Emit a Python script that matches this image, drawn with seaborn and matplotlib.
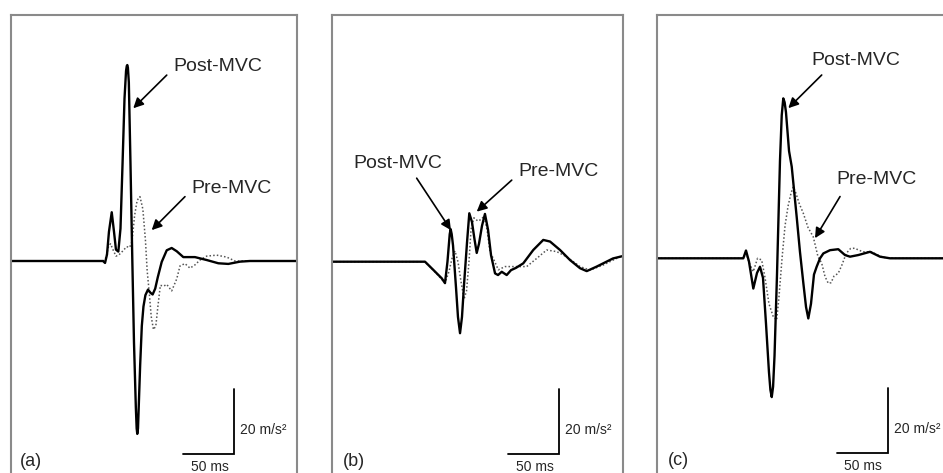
"""
Mechanomyogram twitch traces before and after MVC, three panels (a)-(c).
Solid = Post-MVC, dotted = Pre-MVC. Scale bars: 50 ms / 20 m/s^2.
"""

import matplotlib.pyplot as plt
import seaborn as sns

# ---- data: time (ms) and acceleration (m/s^2) ----
post_a_t = [0, 89.3, 91.3, 93.2, 95.1, 97.8, 100.0, 101.9, 104.2, 106.3,
            108.3, 110.2, 111.7, 112.4, 112.9, 113.5, 114.4, 116.0, 117.8, 119.4,
            121.2, 122.0, 122.6, 123.3, 124.0, 125.4, 127.0, 128.6, 130.5, 133.0,
            135.5, 137.5, 140.0, 142.5, 146.3, 151.2, 156.0, 160.9, 167.3, 178.6,
            190.0, 201.3, 211.0, 222.3, 232.0, 277.7]
post_a_v = [0, 0, -0.6, 2.0, 9.0, 15.0, 9.0, 3.5, 2.9, 10.0,
            30.0, 50.0, 58.5, 60.0, 60.3, 59.5, 55.0, 30.0, 0.0, -25.0,
            -45.0, -51.5, -53.2, -51.5, -45.0, -32.0, -20.0, -14.0, -10.5, -8.8,
            -9.8, -10.3, -8.5, -5.0, -0.3, 3.3, 4.0, 3.0, 1.2, 1.2,
            0.3, -0.7, -0.9, -0.2, 0, 0]
pre_a_t = [0, 89.3, 92.2, 94.7, 96.6, 99.0, 101.9, 104.4, 106.8, 109.7,
           112.3, 115.2, 117.5, 120.0, 122.5, 125.2, 128.0, 130.5, 132.2, 134.3,
           136.1, 138.3, 140.6, 142.6, 145.0, 148.4, 151.2, 156.0, 160.9, 164.1,
           168.9, 173.8, 178.6, 183.5, 190.0, 199.7, 209.4, 217.5, 228.8, 277.7]
pre_a_v = [0, 0, 1.0, 4.5, 5.3, 3.5, 1.5, 1.8, 2.5, 3.5,
           4.4, 4.2, 6.0, 14.0, 18.7, 19.8, 16.0, 6.5, -3.0, -10.0,
           -17.0, -21.1, -20.0, -14.0, -7.5, -7.7, -7.2, -9.2, -5.5, -1.5,
           -0.8, -2.2, -1.2, 0.3, 1.5, 1.8, 1.2, 0, 0, 0]

post_b_t = [0, 90.3, 98.3, 106.5, 109.7, 112.1, 114.3, 115.2, 116.2, 117.5,
            120.4, 122.3, 124.3, 126.2, 128.2, 131.1, 133.3, 135.9, 138.3, 140.5,
            142.7, 145.6, 148.5, 151.5, 154.4, 158.3, 161.2, 164.8, 169.6, 173.8,
            178.6, 185.7, 195.4, 205.1, 211.7, 221.4, 231.1, 240.8, 247.3, 257.0,
            272.8, 282.5]
post_b_v = [0, 0, -2.5, -5.1, -6.6, 0, 8.5, 10.0, 8.5, 5.0,
            -8.0, -17.0, -22.0, -17.0, -7.0, 6.0, 14.9, 12.2, 7.0, 2.7,
            5.5, 11.0, 14.7, 9.8, 2.0, -3.6, -4.1, -3.1, -4.1, -2.6,
            -1.9, -0.5, 3.6, 6.7, 6.2, 3.6, 0.5, -2.0, -2.9, -1.5,
            1.0, 1.75]
pre_b_t = [0, 90.3, 98.1, 106.8, 109.7, 113.6, 116.5, 119.4, 122.3, 125.2,
           128.2, 130.6, 133.0, 135.0, 137.8, 141.7, 144.7, 147.6, 150.5, 153.4,
           156.6, 161.5, 168.0, 179.3, 189.0, 198.7, 208.4, 218.2, 227.9, 240.8,
           250.5, 263.4, 282.5]
pre_b_v = [0, 0, -2.5, -5.5, -6.5, -3.0, 1.0, 3.3, 0, -6.0,
           -11.5, -9.0, 0, 10.0, 13.5, 12.5, 13.0, 14.0, 10.0, 3.0,
           1.0, -2.5, -1.5, -1.5, -1.5, 1.0, 3.6, 3.1, 1.5, -1.5,
           -2.6, -1.0, 2.0]

post_c_t = [0, 83.8, 86.4, 89.3, 93.5, 97.1, 100.0, 102.9, 105.8, 108.7,
            110.1, 111.4, 112.7, 114.1, 116.5, 119.4, 121.1, 122.6, 123.9, 125.2,
            128.2, 130.8, 135.6, 138.8, 142.1, 144.7, 146.9, 149.5, 152.4, 155.0,
            158.3, 161.5, 168.0, 176.0, 182.5, 187.4, 195.4, 206.8, 216.5, 226.2,
            242.4, 294.2]
post_c_v = [0, 0, 2.4, -1.0, -9.3, -4.5, -2.6, -6.0, -20.0, -35.0,
            -40.5, -42.7, -39.5, -30.0, -5.0, 30.0, 44.0, 49.2, 48.0, 45.0,
            33.0, 28.2, 12.8, 2.0, -7.7, -15.0, -18.5, -14.0, -5.0, -2.6,
            0, 1.5, 2.5, 2.8, 1.0, 0.5, 1.0, 2.0, 0.5, 0,
            0, 0]
pre_c_t = [0, 83.8, 86.4, 90.3, 93.5, 97.6, 101.6, 104.9, 108.7, 112.9,
           116.2, 118.4, 121.4, 124.3, 127.2, 130.1, 132.3, 134.9, 137.9, 142.1,
           146.6, 151.7, 156.3, 159.9, 163.1, 166.3, 169.0, 171.8, 176.0, 179.6,
           183.7, 187.9, 191.8, 199.8, 208.0, 219.2, 231.0, 294.2]
pre_c_v = [0, 0, 1.6, -2.0, -4.1, 0, -0.5, -6.0, -14.0, -18.0,
           -19.0, -12.0, 0, 10.0, 16.0, 20.0, 22.0, 20.0, 17.0, 13.8,
           9.5, 6.6, 0.5, -1.5, -5.6, -7.7, -7.5, -5.5, -4.6, -2.0,
           1.5, 3.0, 3.1, 2.0, 2.0, 0.3, 0, 0]

panel_labels = ["(a)", "(b)", "(c)"]
series_labels = ["Post-MVC", "Pre-MVC"]
time_bar_ms = 50
accel_bar = 20

# ---- layout (pixels of a 943x473 canvas) ----
W, H = 943, 473
PX_PER_MS = 1.03
PX_PER_UNIT = 3.25

PANELS = [
    # left px, width px, baseline px, traces, annotation geometry (data coords)
    dict(left=11, width=286, base=261,
         post=(post_a_t, post_a_v), pre=(pre_a_t, pre_a_v),
         post_txt=(157.3, 59.7), post_tail=(151.2, 57.2), post_head=(118.7, 47.0),
         pre_txt=(175.4, 22.4), pre_tail=(168.9, 19.8), pre_head=(136.6, 9.5),
         bar_x=216.8, bar_y=-59.4, ms_x=193.0, lab_x=8.7),
    dict(left=332, width=291, base=261.7,
         post=(post_b_t, post_b_v), pre=(pre_b_t, pre_b_v),
         post_txt=(20.7, 30.3), post_tail=(82.2, 25.7), post_head=(115.5, 9.7),
         pre_txt=(180.6, 27.7), pre_tail=(174.5, 25.1), pre_head=(140.5, 15.4),
         bar_x=220.4, bar_y=-59.2, ms_x=197.0, lab_x=10.4),
    dict(left=657, width=303, base=258.3,
         post=(post_c_t, post_c_v), pre=(pre_c_t, pre_c_v),
         post_txt=(150.2, 61.0), post_tail=(159.9, 56.4), post_head=(127.5, 46.2),
         pre_txt=(174.5, 24.1), pre_tail=(177.7, 19.0), pre_head=(153.4, 6.2),
         bar_x=224.6, bar_y=-59.9, ms_x=199.5, lab_x=11.0),
]

sns.set_style("white")
plt.rcParams["font.family"] = ["Liberation Sans", "DejaVu Sans"]

FRAME_COLOR = "#8a8a8a"
ARROW = dict(arrowstyle="-|>", color="black", lw=1.2, mutation_scale=15,
             shrinkA=0, shrinkB=0)


def draw_panel(fig, cfg, label):
    top_px, bottom_px = 15, 480
    ax = fig.add_axes([cfg["left"] / W, (H - bottom_px) / H,
                       cfg["width"] / W, (bottom_px - top_px) / H])
    ax.set_xlim(0, cfg["width"] / PX_PER_MS)
    ax.set_ylim(-(bottom_px - cfg["base"]) / PX_PER_UNIT,
                (cfg["base"] - top_px) / PX_PER_UNIT)

    pre_t, pre_v = cfg["pre"]
    post_t, post_v = cfg["post"]
    sns.lineplot(x=pre_t, y=pre_v, ax=ax, color="#555555", lw=1.1,
                 linestyle=(0, (1, 1.4)), sort=False)
    sns.lineplot(x=post_t, y=post_v, ax=ax, color="black", lw=1.7, sort=False)

    # annotations
    ax.annotate("", xy=cfg["post_head"], xytext=cfg["post_tail"], arrowprops=ARROW)
    ax.annotate("", xy=cfg["pre_head"], xytext=cfg["pre_tail"], arrowprops=ARROW)
    ax.text(*cfg["post_txt"], series_labels[0], fontsize=14, ha="left", va="center")
    ax.text(*cfg["pre_txt"], series_labels[1], fontsize=14, ha="left", va="center")

    # scale bars
    bx, by = cfg["bar_x"], cfg["bar_y"]
    ax.plot([bx - time_bar_ms, bx, bx], [by, by, by + accel_bar],
            color="black", lw=1.3, solid_joinstyle="miter")
    ax.text(bx + 5.5, by + 7.4, f"{accel_bar} m/s²", fontsize=10,
            ha="left", va="center")
    ax.text(cfg["ms_x"], by - 3.9, f"{time_bar_ms} ms", fontsize=10,
            ha="center", va="center")
    ax.text(cfg["lab_x"], by - 2.4, label, fontsize=13, ha="left", va="center")

    ax.set_xticks([])
    ax.set_yticks([])
    ax.set_xlabel("")
    ax.set_ylabel("")
    for side in ["top", "left", "right"]:
        ax.spines[side].set_color(FRAME_COLOR)
        ax.spines[side].set_linewidth(1.5)
    ax.spines["bottom"].set_visible(False)
    return ax


def main():
    fig = plt.figure(figsize=(W / 100, H / 100), dpi=100)
    for cfg, label in zip(PANELS, panel_labels):
        draw_panel(fig, cfg, label)
    fig.savefig("out.png", dpi=100)
    plt.close(fig)


if __name__ == "__main__":
    main()
